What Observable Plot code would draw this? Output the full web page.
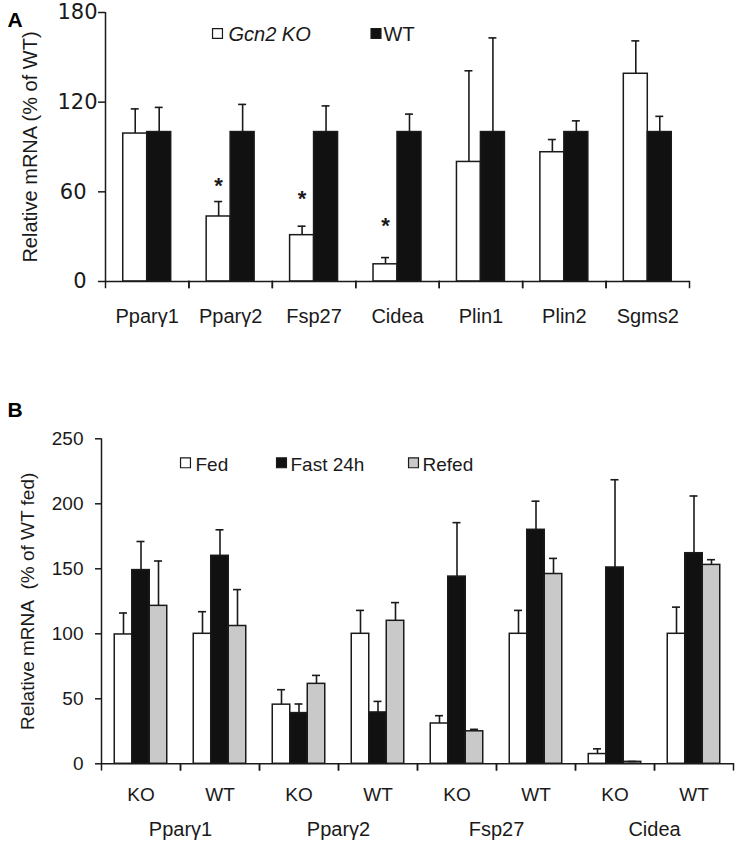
<!DOCTYPE html>
<html><head><meta charset="utf-8">
<script src="https://cdn.jsdelivr.net/npm/d3@7"></script>
<script src="https://cdn.jsdelivr.net/npm/@observablehq/plot@0.6"></script>
<style>
body{margin:0;background:#fff;}
#chart{width:741px;height:846px;position:relative;background:#fff;}
#chart svg{display:block;}
</style></head><body><div id="chart"><div id="pa"></div><div id="pb"></div></div>
<script>
// ---------- Panel A data ----------
const genesA = ["Pparγ1","Pparγ2","Fsp27","Cidea","Plin1","Plin2","Sgms2"];
const groupsA = ["Gcn2 KO","WT"];
const koA     = [99, 43.5, 31, 11.5, 80, 86.5, 139];
const koErrA  = [115.5, 53.5, 37, 16, 141, 95, 161];
const wtA     = [100, 100, 100, 100, 100, 100, 100];
const wtErrA  = [116.5, 118.5, 117.5, 112, 163, 107.5, 110.5];
const starGenesA = ["Pparγ2","Fsp27","Cidea"];
const starYA  = [64, 55, 37];
const yTicksA = [0, 60, 120, 180];
const yLabelA = "Relative mRNA (% of WT)";

// ---------- Panel B data ----------
const genesB = ["Pparγ1","Pparγ2","Fsp27","Cidea"];
const genotypesB = ["KO","WT"];
const conditionsB = ["Fed","Fast 24h","Refed"];
// order: Pparγ1 KO, Pparγ1 WT, Pparγ2 KO, Pparγ2 WT, Fsp27 KO, Fsp27 WT, Cidea KO, Cidea WT
const fedB      = [99.5, 100, 45.5, 100, 31, 100, 7.5, 100];
const fedErrB   = [116, 117, 57, 118, 37, 118, 11.5, 120.5];
const fastB     = [149, 160, 39, 39.5, 144, 180, 151, 162];
const fastErrB  = [171, 180, 46, 48, 185.5, 202, 218.5, 206];
const refedB    = [121.5, 106, 61.5, 110, 25, 146, 1.5, 153];
const refedErrB = [156, 134, 68, 124, 26.5, 158, 1.8, 157];
const yTicksB = [0, 50, 100, 150, 200, 250];
const yLabelB = "Relative mRNA\u00A0\u00A0(% of WT fed)";

const FONT = "'Liberation Sans', Arial, Helvetica, sans-serif";
const INK = "#1a1a1a";

// ---------- layout (style) ----------
const W = 741;
const A_ML = 105, A_MR = 52, A_MT = 12, A_MB = 99, A_H = 380, A_PO = 0.74;
const B_ML = 101, B_MR = 8, B_MT = 58.3, B_MB = 82.7, B_H = 466, B_PO = 0.757;
const stepA = (W - A_ML - A_MR) / genesA.length / (groupsA.length + 2 * A_PO);
const axisShiftA = -(A_PO + 0.5) * stepA;
const nCombos = genesB.length * genotypesB.length;
const stepB = (W - B_ML - B_MR) / nCombos / (conditionsB.length + 2 * B_PO);
const axisShiftB = -(B_PO + 0.5) * stepB;

// ---------- build tables ----------
const rowsA = [];
genesA.forEach((g, i) => {
  rowsA.push({gene: g, group: groupsA[0], value: koA[i], err: koErrA[i]});
  rowsA.push({gene: g, group: groupsA[1], value: wtA[i], err: wtErrA[i]});
});
const starsA = starGenesA.map((g, i) => ({gene: g, group: groupsA[0], y: starYA[i]}));

const combosB = [];
genesB.forEach(g => genotypesB.forEach(t => combosB.push(g + "|" + t)));
const seriesB = [[fedB, fedErrB], [fastB, fastErrB], [refedB, refedErrB]];
const rowsB = [];
combosB.forEach((c, i) => {
  conditionsB.forEach((cond, j) => {
    rowsB.push({combo: c, cond, value: seriesB[j][0][i], err: seriesB[j][1][i]});
  });
});

// ---------- Panel A ----------
const plotA = Plot.plot({
  width: W, height: A_H,
  marginLeft: A_ML, marginRight: A_MR, marginTop: A_MT, marginBottom: A_MB,
  style: {fontFamily: FONT, fontSize: "19px", color: INK, background: "white"},
  fx: {domain: genesA, padding: 0, round: false, label: null},
  x: {domain: groupsA, paddingInner: 0, paddingOuter: A_PO, round: false, axis: null},
  y: {domain: [0, 180], axis: null},
  color: {domain: groupsA, range: ["#ffffff", "#111111"]},
  marks: [
    Plot.barY(rowsA, {fx: "gene", x: "group", y: "value", fill: "group", stroke: INK, strokeWidth: 1.5}),
    Plot.ruleX(rowsA, {fx: "gene", x: "group", y1: "value", y2: "err", stroke: INK, strokeWidth: 1.6}),
    Plot.tickY(rowsA, {fx: "gene", x: "group", y: "err", inset: 8, stroke: INK, strokeWidth: 1.6}),
    Plot.text(starsA, {fx: "gene", x: "group", y: "y", text: () => "*", fontSize: 22, fontWeight: "bold", fill: INK}),
    Plot.ruleY([0], {stroke: INK, strokeWidth: 1.5}),
    Plot.frame({anchor: "left", insetTop: A_H - A_MT - A_MB, insetBottom: -6, stroke: INK, strokeWidth: 1.5}),
    Plot.frame({anchor: "right", insetTop: A_H - A_MT - A_MB, insetBottom: -6, stroke: INK, strokeWidth: 1.5}),
    // y axis line
    Plot.ruleX([genesA[0]], {fx: d => d, x: () => groupsA[0], y1: () => yTicksA[0], y2: () => yTicksA[yTicksA.length - 1], dx: axisShiftA, stroke: INK, strokeWidth: 1.5}),
    Plot.axisY({ticks: yTicksA.slice(0, 2), tickSize: 7, tickPadding: 12, label: null, fontSize: 21, fontFamily: "'DejaVu Sans', sans-serif", stroke: INK, strokeWidth: 1.5}),
    Plot.axisY({ticks: yTicksA.slice(2), tickSize: 7, tickPadding: 1, label: null, fontSize: 21, fontFamily: "'DejaVu Sans', sans-serif", stroke: INK, strokeWidth: 1.5}),
    Plot.axisFx({anchor: "bottom", tickSize: 0, tickPadding: 27, label: null, fontSize: 20}),
    Plot.text([yLabelA], {fx: () => genesA[0], frameAnchor: "left", textAnchor: "middle", rotate: -90, dx: -75, text: d => d, fontSize: 20, fill: INK}),
    Plot.text(["A"], {fx: () => genesA[0], frameAnchor: "top-left", dx: -98, dy: 8, textAnchor: "start", lineAnchor: "middle", text: d => d, fontSize: 21, fontWeight: "bold", fill: "#000"}),
    // legend
    Plot.dot([groupsA[0]], {fx: () => genesA[0], frameAnchor: "top-left", dx: 112, dy: 21, symbol: "square", r: 5.6, fill: d => d, stroke: INK, strokeWidth: 1.2}),
    Plot.text([groupsA[0]], {fx: () => genesA[0], frameAnchor: "top-left", dx: 123, dy: 22, textAnchor: "start", lineAnchor: "middle", text: d => d, fontSize: 20, fontStyle: "italic", fill: INK}),
    Plot.dot([groupsA[1]], {fx: () => genesA[0], frameAnchor: "top-left", dx: 270.5, dy: 21, symbol: "square", r: 5.6, fill: d => d, stroke: INK, strokeWidth: 1.2}),
    Plot.text([groupsA[1]], {fx: () => genesA[0], frameAnchor: "top-left", dx: 278, dy: 22, textAnchor: "start", lineAnchor: "middle", text: d => d, fontSize: 20, fill: INK})
  ]
});
document.getElementById("pa").appendChild(plotA);

// ---------- Panel B ----------
const plotB = Plot.plot({
  width: W, height: B_H,
  marginLeft: B_ML, marginRight: B_MR, marginTop: B_MT, marginBottom: B_MB,
  style: {fontFamily: FONT, fontSize: "19px", color: INK, background: "white"},
  fx: {domain: combosB, padding: 0, round: false, label: null},
  x: {domain: conditionsB, paddingInner: 0, paddingOuter: B_PO, round: false, axis: null},
  y: {domain: [0, 250], axis: null},
  color: {domain: conditionsB, range: ["#ffffff", "#111111", "#c9c9c9"]},
  marks: [
    Plot.barY(rowsB, {fx: "combo", x: "cond", y: "value", fill: "cond", stroke: INK, strokeWidth: 1.5}),
    Plot.ruleX(rowsB, {fx: "combo", x: "cond", y1: "value", y2: "err", stroke: INK, strokeWidth: 1.6}),
    Plot.tickY(rowsB, {fx: "combo", x: "cond", y: "err", inset: 4.75, stroke: INK, strokeWidth: 1.6}),
    Plot.ruleY([0], {stroke: INK, strokeWidth: 1.5}),
    Plot.frame({anchor: "left", insetTop: B_H - B_MT - B_MB, insetBottom: -6, stroke: INK, strokeWidth: 1.5}),
    Plot.frame({anchor: "right", insetTop: B_H - B_MT - B_MB, insetBottom: -6, stroke: INK, strokeWidth: 1.5}),
    Plot.ruleX([combosB[0]], {fx: d => d, x: () => conditionsB[0], y1: () => yTicksB[0], y2: () => yTicksB[yTicksB.length - 1], dx: axisShiftB, stroke: INK, strokeWidth: 1.5}),
    Plot.axisY({ticks: yTicksB, tickSize: 6, tickPadding: 12, label: null, fontSize: 19, stroke: INK, strokeWidth: 1.5}),
    Plot.axisFx({anchor: "bottom", tickSize: 0, tickPadding: 23.5, label: null, fontSize: 19, tickFormat: d => d.split("|")[1]}),
    Plot.text(genesB, {fx: d => d + "|" + genotypesB[0], frameAnchor: "bottom-right", textAnchor: "middle", dy: 58, lineAnchor: "top", text: d => d, fontSize: 20, fill: INK}),
    Plot.text([yLabelB], {fx: () => combosB[0], frameAnchor: "left", textAnchor: "middle", rotate: -90, dx: -74, text: d => d, fontSize: 19, fill: INK}),
    Plot.text(["B"], {fx: () => combosB[0], frameAnchor: "top-left", dx: -94, dy: -28.3, textAnchor: "start", lineAnchor: "middle", text: d => d, fontSize: 21, fontWeight: "bold", fill: "#000"}),
    // legend
    Plot.dot([conditionsB[0]], {fx: () => combosB[0], frameAnchor: "top-left", dx: 84, dy: 24, symbol: "square", r: 5.6, fill: d => d, stroke: INK, strokeWidth: 1.2}),
    Plot.text([conditionsB[0]], {fx: () => combosB[0], frameAnchor: "top-left", dx: 94, dy: 26, textAnchor: "start", lineAnchor: "middle", text: d => d, fontSize: 19, fill: INK}),
    Plot.dot([conditionsB[1]], {fx: () => combosB[0], frameAnchor: "top-left", dx: 180, dy: 24, symbol: "square", r: 5.6, fill: d => d, stroke: INK, strokeWidth: 1.2}),
    Plot.text([conditionsB[1]], {fx: () => combosB[0], frameAnchor: "top-left", dx: 189, dy: 26, textAnchor: "start", lineAnchor: "middle", text: d => d, fontSize: 19, fill: INK}),
    Plot.dot([conditionsB[2]], {fx: () => combosB[0], frameAnchor: "top-left", dx: 312, dy: 24, symbol: "square", r: 5.6, fill: d => d, stroke: INK, strokeWidth: 1.2}),
    Plot.text([conditionsB[2]], {fx: () => combosB[0], frameAnchor: "top-left", dx: 321, dy: 26, textAnchor: "start", lineAnchor: "middle", text: d => d, fontSize: 19, fill: INK})
  ]
});
document.getElementById("pb").appendChild(plotB);
</script></body></html>
